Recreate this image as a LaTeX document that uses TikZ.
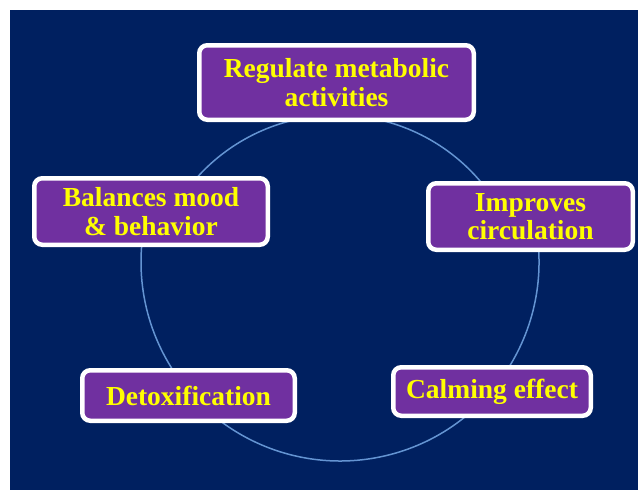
\documentclass[tikz,border=0pt]{standalone}
\usepackage{fontspec}
\setmainfont{Liberation Serif}
\definecolor{navy}{HTML}{002060}
\definecolor{boxpurple}{HTML}{7030A0}
\definecolor{ringblue}{RGB}{100,148,210}
\definecolor{txtyellow}{HTML}{FFFF00}
\tikzset{
  benefit/.style={draw=white, line width=4.5pt, fill=boxpurple, rounded corners=8pt,
    inner sep=0pt, align=center, text=txtyellow,
    font=\fontsize{27.5}{28.5}\selectfont\bfseries},
  ring/.style={draw=ringblue, line width=1.5pt}
}
\begin{document}
\begin{tikzpicture}[x=1pt,y=-1pt]
\useasboundingbox (0,0) rectangle (638,490);
\fill[navy] (10,10) rectangle (638,490);
% lower ring (behind boxes)
\coordinate (lowc) at (340,262);
\coordinate (upc) at (337,303);
\draw[ring] (lowc) ++(-10:199) arc[start angle=-10, end angle=190, radius=199];
% upper ring arcs (behind boxes)
\draw[ring] (upc) ++(215:188) arc[start angle=215, end angle=325, radius=188];
\node[benefit, minimum width=274.5pt, minimum height=74.5pt] (reg) at (336.5,82.5) {Regulate metabolic\\activities};
\node[benefit, minimum width=204.5pt, minimum height=66.5pt] (imp) at (530.5,216.5) {Improves\\circulation};
\node[benefit, minimum width=197.5pt, minimum height=48.5pt] (calm) at (492,391.5) {Calming effect};
\node[benefit, minimum width=212.5pt, minimum height=50.5pt] (detox) at (188.5,395.5) {Detoxification};
\node[benefit, minimum width=233.5pt, minimum height=66.5pt] (mood) at (151,211.5) {Balances mood\\\& behavior};
\end{tikzpicture}
\end{document}
